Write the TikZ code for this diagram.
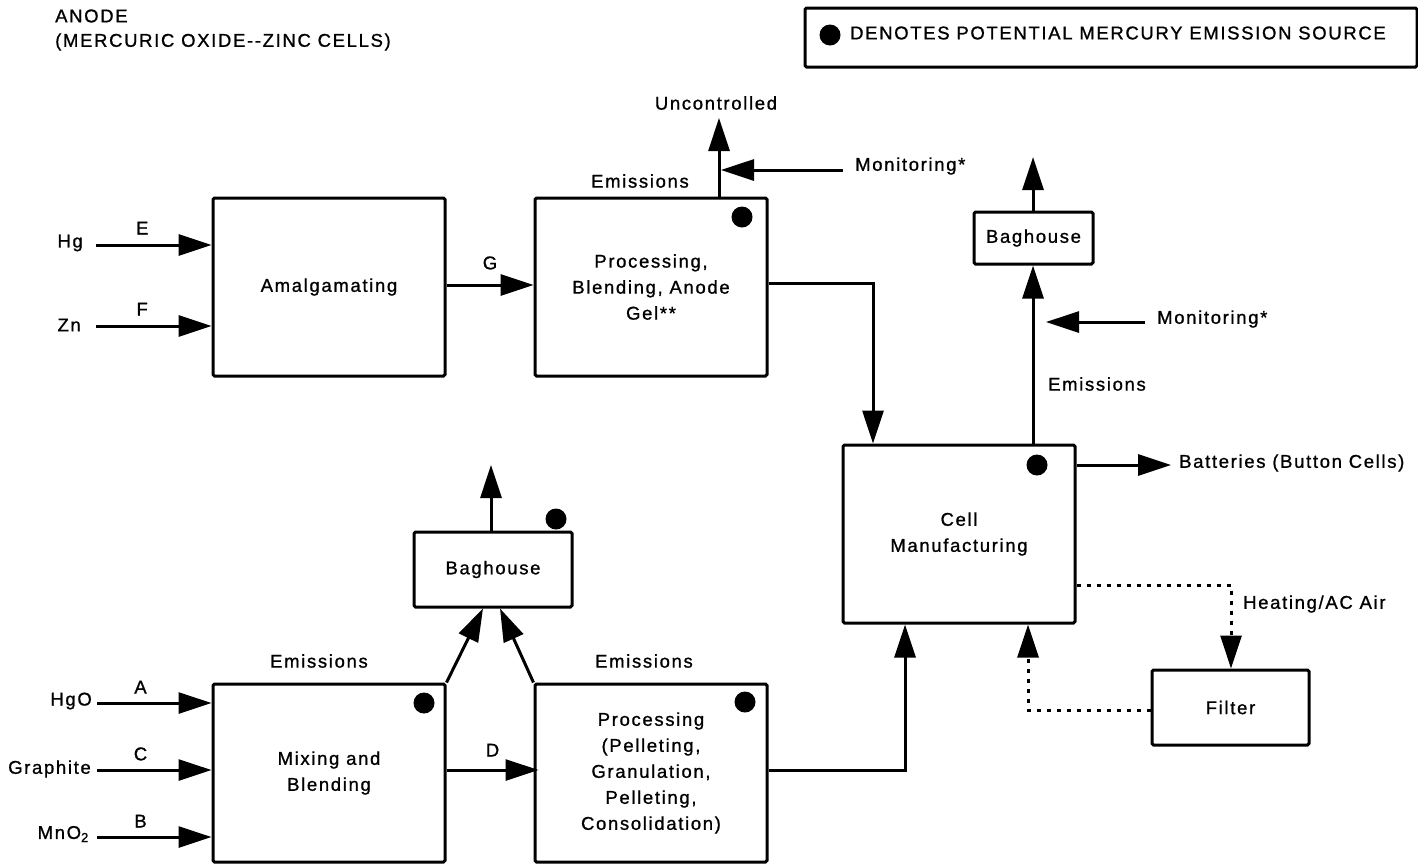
\documentclass[tikz,border=0pt]{standalone}
\usepackage{fontspec}
\setmainfont{Liberation Sans}[LetterSpace=9,FakeBold=1]
\usetikzlibrary{arrows.meta}
\begin{document}
\begin{tikzpicture}[x=1pt,y=-1pt,
  every node/.style={font=\fontsize{18.5}{26}\selectfont, inner sep=0pt},
  box/.style={draw, line width=3pt, rounded corners=1.5pt, align=center},
  bigbox/.style={box, minimum width=232pt, minimum height=178pt},
  smallbox/.style={box, minimum width=158pt, minimum height=75pt},
  lbl/.style={anchor=west},
  arr/.style={line width=3pt, -{Triangle[length=33pt,width=21pt]}},
  dotarr/.style={arr, dash pattern=on 4pt off 6pt},
  src/.style={circle, fill=black, inner sep=0pt, minimum size=21pt}]
\useasboundingbox (0,0) rectangle (1418,863);

% title and legend
\node[lbl] (t1) at (55,16) {ANODE};
\node[lbl] (t2) at (55,42) {(MERCURIC OXIDE-{}-ZINC CELLS)};
\node[box, minimum width=612pt, minimum height=59pt] (legend) at (1111,37.5) {};
\node[src] (ldot) at (830,35) {};
\node[lbl] (ltxt) at (850,33) {DENOTES POTENTIAL MERCURY EMISSION SOURCE};

% boxes
\node[bigbox] (amal) at (329,287) {Amalgamating};
\node[bigbox] (proc) at (651,287) {Processing,\\Blending, Anode\\Gel**};
\node[bigbox] (cell) at (959,534) {Cell\\Manufacturing};
\node[box, minimum width=119pt, minimum height=52pt] (tbag) at (1033.5,238) {Baghouse};
\node[smallbox] (bbag) at (493,569.5) {Baghouse};
\node[bigbox] (mix) at (329,773) {Mixing and\\Blending};
\node[bigbox] (pell) at (651,773) {Processing\\(Pelleting,\\Granulation,\\Pelleting,\\Consolidation)};
\node[smallbox, minimum width=157pt] (filter) at (1230.5,707.5) {Filter};

% source dots
\node[src] (d1) at (742,217) {};
\node[src] (d2) at (1037,465) {};
\node[src] (d3) at (424,703) {};
\node[src] (d4) at (745,702) {};
\node[src] (d5) at (556,519) {};

% anode inputs
\node[anchor=east] (hg) at (83,243) {Hg};
\node[anchor=east] (zn) at (81,325) {Zn};
\coordinate (hgs) at (96,245);
\coordinate (zns) at (96,326);
\draw[arr] (hgs) -- (hgs -| amal.west) node[pos=0.4, above=9pt] (le) {E};
\draw[arr] (zns) -- (zns -| amal.west) node[pos=0.4, above=9pt] (lf) {F};
\draw[arr] (amal.east |- 0,285) -- (proc.west |- 0,285) node[midway, above=14pt] (lg) {G};

% processing top emissions
\node (em1) at (640,181) {Emissions};
\coordinate (unc) at (719,118);
\node (uncl) at (716,103) {Uncontrolled};
\draw[arr] (proc.north -| unc) -- (unc);
\node[lbl] (mon1) at (855,166) {Monitoring*};
\coordinate (m1s) at (843,170);
\coordinate (m1e) at (721,170);
\draw[arr] (m1s) -- (m1e);

% processing -> cell
\coordinate (pc) at (873,283);
\draw[arr] (proc.east |- pc) -- (pc) -- (pc |- cell.north);

% cell emissions
\coordinate (tb) at (1033,157);
\draw[arr] (tbag.north -| tb) -- (tb);
\draw[arr] (cell.north -| tb) -- (tbag.south -| tb);
\node[lbl] (mon2) at (1157,319) {Monitoring*};
\coordinate (m2s) at (1145,322);
\coordinate (m2e) at (1046,322);
\draw[arr] (m2s) -- (m2e);
\node (em2) at (1097,384) {Emissions};

% batteries
\coordinate (bt) at (1171,465);
\draw[arr] (cell.east |- bt) -- (bt);
\node[lbl] (batt) at (1179,463) {Batteries (Button Cells)};

% heating loop
\coordinate (h1) at (1231,585);
\draw[dotarr] (cell.east |- h1) -- (h1) -- (filter.north -| h1);
\node[lbl] (heat) at (1243,604) {Heating/AC Air};
\coordinate (h2) at (1028,710);
\draw[dotarr] (filter.west |- h2) -- (h2) -- (cell.south -| h2);

% cathode inputs
\node[anchor=east] (hgo) at (92,701) {HgO};
\node[anchor=east] (gr) at (91,769) {Graphite};
\node[anchor=east] (mno) at (89,834) {MnO\textsubscript{2}};
\coordinate (as) at (97,703);
\coordinate (cs) at (97,770);
\coordinate (bs) at (97,837);
\draw[arr] (as) -- (as -| mix.west) node[pos=0.38, above=8pt] (la) {A};
\draw[arr] (cs) -- (cs -| mix.west) node[pos=0.38, above=8pt] (lc) {C};
\draw[arr] (bs) -- (bs -| mix.west) node[pos=0.38, above=8pt] (lb) {B};

% mixing -> processing
\draw[arr] (mix.east |- 0,770) -- ([xshift=5pt]pell.west |- 0,770) node[midway, above=12pt] (ld) {D};
\node (em3) at (319,661) {Emissions};
\node (em4) at (644,661) {Emissions};

% to baghouse
\draw[arr] (mix.north east) -- ([xshift=-10pt]bbag.south);
\draw[arr] (pell.north west) -- ([xshift=7pt]bbag.south);
\coordinate (bb) at (491,465);
\draw[arr] (bbag.north -| bb) -- (bb);

% processing -> cell
\coordinate (pc2) at (905,770);
\draw[arr] (pell.east |- pc2) -- (pc2) -- (pc2 |- cell.south);
\end{tikzpicture}
\end{document}
